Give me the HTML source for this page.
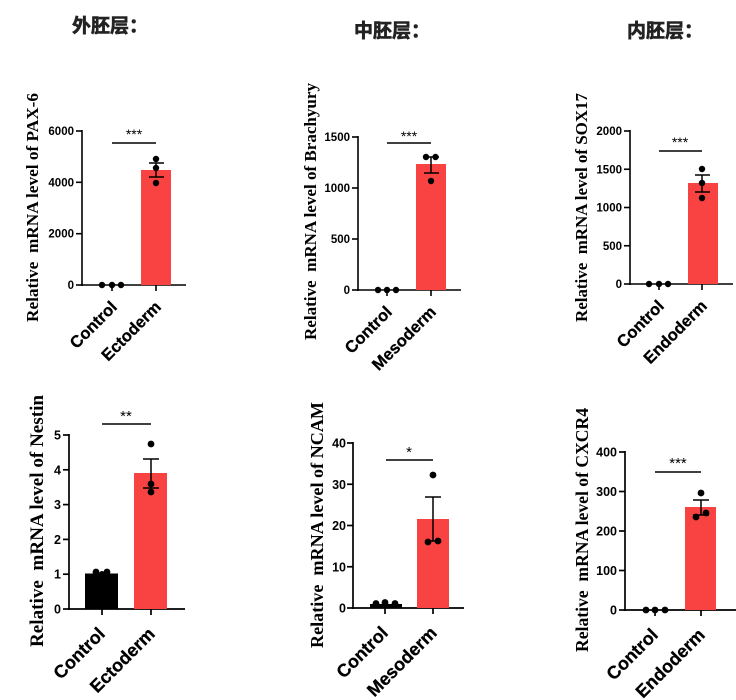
<!DOCTYPE html>
<html><head><meta charset="utf-8"><style>
html,body{margin:0;padding:0;background:#fff;}
svg{display:block;}
.t{font-family:"Noto Sans CJK SC","WenQuanYi Zen Hei",sans-serif;font-weight:bold;fill:#222;stroke:#222;stroke-width:0.6;font-size:19px;}
.tk{font-family:"Liberation Sans",sans-serif;font-weight:bold;fill:#000;}
.yl{font-family:"Liberation Serif",serif;font-weight:bold;fill:#000;}
.xl{font-family:"Liberation Sans",sans-serif;font-weight:bold;fill:#000;stroke:#000;stroke-width:0.3;}
.st{font-family:"Liberation Sans",sans-serif;fill:#000;}
</style></head><body>
<svg width="736" height="700" viewBox="0 0 736 700" xmlns="http://www.w3.org/2000/svg">
<!-- Titles -->
<text class="t" x="72" y="32">外胚层：</text>
<text class="t" x="354" y="37">中胚层：</text>
<text class="t" x="627" y="37">内胚层：</text>

<!-- P1 PAX-6 -->
<g stroke="#000" stroke-width="1.6" fill="none">
<line x1="82" y1="130" x2="82" y2="286"/>
<line x1="81" y1="285" x2="186" y2="285"/>
<line x1="76" y1="131" x2="82" y2="131"/>
<line x1="76" y1="182.3" x2="82" y2="182.3"/>
<line x1="76" y1="233.7" x2="82" y2="233.7"/>
<line x1="76" y1="285" x2="82" y2="285"/>
<line x1="112" y1="285" x2="112" y2="291"/>
<line x1="156" y1="285" x2="156" y2="291"/>
</g>
<rect x="141" y="170" width="30" height="115" fill="#f94242"/>
<g stroke="#000" stroke-width="1.5">
<line x1="156" y1="163" x2="156" y2="177"/>
<line x1="149" y1="163" x2="164" y2="163"/>
<line x1="149" y1="177" x2="164" y2="177"/>
<line x1="112" y1="143" x2="156" y2="143" stroke-width="1.4"/>
</g>
<g fill="#000">
<circle cx="156" cy="159" r="3.2"/><circle cx="156" cy="168" r="3.2"/><circle cx="156" cy="183" r="3.2"/>
<circle cx="102" cy="285" r="3.2"/><circle cx="112" cy="285" r="3.2"/><circle cx="121" cy="285" r="3.2"/>
</g>
<text class="st" x="134" y="139" font-size="14" text-anchor="middle">***</text>
<g class="tk" font-size="11.5" text-anchor="end">
<text x="74" y="135">6000</text><text x="74" y="186.3">4000</text><text x="74" y="237.7">2000</text><text x="74" y="289">0</text>
</g>
<text class="yl" font-size="17" text-anchor="middle" textLength="229" lengthAdjust="spacingAndGlyphs" transform="translate(38,207.5) rotate(-90)">Relative&#160; mRNA level of PAX-6</text>
<text class="xl" font-size="16.5" text-anchor="end" transform="translate(118,308) rotate(-45)">Control</text>
<text class="xl" font-size="16.5" text-anchor="end" transform="translate(162,308) rotate(-45)">Ectoderm</text>

<!-- P2 Brachyury -->
<g stroke="#000" stroke-width="1.6" fill="none">
<line x1="358" y1="136" x2="358" y2="291"/>
<line x1="357" y1="290" x2="461" y2="290"/>
<line x1="352" y1="137" x2="358" y2="137"/>
<line x1="352" y1="188" x2="358" y2="188"/>
<line x1="352" y1="239" x2="358" y2="239"/>
<line x1="352" y1="290" x2="358" y2="290"/>
<line x1="387" y1="290" x2="387" y2="296"/>
<line x1="431" y1="290" x2="431" y2="296"/>
</g>
<rect x="416" y="164" width="30" height="126" fill="#f94242"/>
<g stroke="#000" stroke-width="1.5">
<line x1="431" y1="157" x2="431" y2="173"/>
<line x1="424" y1="157" x2="439" y2="157"/>
<line x1="424" y1="173" x2="439" y2="173"/>
<line x1="387" y1="143" x2="431" y2="143" stroke-width="1.4"/>
</g>
<g fill="#000">
<circle cx="426" cy="157" r="3.2"/><circle cx="435.5" cy="157" r="3.2"/><circle cx="431" cy="181" r="3.2"/>
<circle cx="378" cy="290" r="3.2"/><circle cx="387" cy="290" r="3.2"/><circle cx="396" cy="290" r="3.2"/>
</g>
<text class="st" x="409" y="141" font-size="14" text-anchor="middle">***</text>
<g class="tk" font-size="11.5" text-anchor="end">
<text x="350" y="141">1500</text><text x="350" y="192">1000</text><text x="350" y="243">500</text><text x="350" y="294">0</text>
</g>
<text class="yl" font-size="17" text-anchor="middle" textLength="257" lengthAdjust="spacingAndGlyphs" transform="translate(316,211.5) rotate(-90)">Relative&#160; mRNA level of Brachyury</text>
<text class="xl" font-size="16.5" text-anchor="end" transform="translate(393,313) rotate(-45)">Control</text>
<text class="xl" font-size="16.5" text-anchor="end" transform="translate(437,313) rotate(-45)">Mesoderm</text>

<!-- P3 SOX17 -->
<g stroke="#000" stroke-width="1.6" fill="none">
<line x1="630" y1="130" x2="630" y2="285"/>
<line x1="629" y1="284" x2="733" y2="284"/>
<line x1="624" y1="131" x2="630" y2="131"/>
<line x1="624" y1="169.25" x2="630" y2="169.25"/>
<line x1="624" y1="207.5" x2="630" y2="207.5"/>
<line x1="624" y1="245.75" x2="630" y2="245.75"/>
<line x1="624" y1="284" x2="630" y2="284"/>
<line x1="659" y1="284" x2="659" y2="290"/>
<line x1="702" y1="284" x2="702" y2="290"/>
</g>
<rect x="688" y="183" width="30" height="101" fill="#f94242"/>
<g stroke="#000" stroke-width="1.5">
<line x1="702" y1="175" x2="702" y2="192"/>
<line x1="695" y1="175" x2="710" y2="175"/>
<line x1="695" y1="192" x2="710" y2="192"/>
<line x1="659" y1="151" x2="702" y2="151" stroke-width="1.4"/>
</g>
<g fill="#000">
<circle cx="702" cy="169" r="3.2"/><circle cx="702" cy="183" r="3.2"/><circle cx="702" cy="198" r="3.2"/>
<circle cx="649" cy="284" r="3.2"/><circle cx="659" cy="284" r="3.2"/><circle cx="668" cy="284" r="3.2"/>
</g>
<text class="st" x="680" y="147" font-size="14" text-anchor="middle">***</text>
<g class="tk" font-size="11.5" text-anchor="end">
<text x="622" y="135">2000</text><text x="622" y="173.25">1500</text><text x="622" y="211.5">1000</text><text x="622" y="249.75">500</text><text x="622" y="288">0</text>
</g>
<text class="yl" font-size="17" text-anchor="middle" textLength="229" lengthAdjust="spacingAndGlyphs" transform="translate(587,207.5) rotate(-90)">Relative&#160; mRNA level of SOX17</text>
<text class="xl" font-size="16.5" text-anchor="end" transform="translate(665,307) rotate(-45)">Control</text>
<text class="xl" font-size="16.5" text-anchor="end" transform="translate(708,307) rotate(-45)">Endoderm</text>

<!-- P4 Nestin -->
<g stroke="#000" stroke-width="1.7" fill="none">
<line x1="69" y1="434" x2="69" y2="610"/>
<line x1="68" y1="609" x2="185" y2="609"/>
<line x1="63" y1="435" x2="69" y2="435"/>
<line x1="63" y1="469.8" x2="69" y2="469.8"/>
<line x1="63" y1="504.6" x2="69" y2="504.6"/>
<line x1="63" y1="539.4" x2="69" y2="539.4"/>
<line x1="63" y1="574.2" x2="69" y2="574.2"/>
<line x1="63" y1="609" x2="69" y2="609"/>
<line x1="102" y1="609" x2="102" y2="615"/>
<line x1="151" y1="609" x2="151" y2="615"/>
</g>
<rect x="85" y="573.5" width="33" height="35.5" fill="#000"/>
<rect x="134" y="473" width="33" height="136" fill="#f94242"/>
<g stroke="#000" stroke-width="1.5">
<line x1="151" y1="459" x2="151" y2="488"/>
<line x1="143" y1="459" x2="159" y2="459"/>
<line x1="143" y1="488" x2="159" y2="488"/>
<line x1="102" y1="424" x2="151" y2="424" stroke-width="1.5"/>
</g>
<g fill="#000">
<circle cx="151" cy="444" r="3.4"/><circle cx="151" cy="484" r="3.4"/><circle cx="151" cy="492" r="3.4"/>
<circle cx="96" cy="572" r="3.4"/><circle cx="107" cy="572" r="3.4"/><circle cx="102" cy="574" r="3"/>
</g>
<text class="st" x="126" y="421" font-size="15" text-anchor="middle">**</text>
<g class="tk" font-size="12.5" text-anchor="end">
<text x="61" y="439.5">5</text><text x="61" y="474.3">4</text><text x="61" y="509.1">3</text><text x="61" y="543.9">2</text><text x="61" y="578.7">1</text><text x="61" y="613.5">0</text>
</g>
<text class="yl" font-size="19" text-anchor="middle" textLength="252" lengthAdjust="spacingAndGlyphs" transform="translate(43,521) rotate(-90)">Relative&#160; mRNA level of Nestin</text>
<text class="xl" font-size="18" text-anchor="end" transform="translate(106,635) rotate(-45)">Control</text>
<text class="xl" font-size="18" text-anchor="end" transform="translate(156,635) rotate(-45)">Ectoderm</text>

<!-- P5 NCAM -->
<g stroke="#000" stroke-width="1.7" fill="none">
<line x1="353" y1="442" x2="353" y2="609"/>
<line x1="352" y1="608" x2="464" y2="608"/>
<line x1="347" y1="443" x2="353" y2="443"/>
<line x1="347" y1="484.25" x2="353" y2="484.25"/>
<line x1="347" y1="525.5" x2="353" y2="525.5"/>
<line x1="347" y1="566.75" x2="353" y2="566.75"/>
<line x1="347" y1="608" x2="353" y2="608"/>
<line x1="385" y1="608" x2="385" y2="614"/>
<line x1="433" y1="608" x2="433" y2="614"/>
</g>
<rect x="370" y="604" width="32" height="4" fill="#000"/>
<rect x="417" y="519" width="32" height="89" fill="#f94242"/>
<g stroke="#000" stroke-width="1.5">
<line x1="433" y1="497" x2="433" y2="541"/>
<line x1="425" y1="497" x2="441" y2="497"/>
<line x1="425" y1="541" x2="441" y2="541"/>
<line x1="386" y1="460" x2="433" y2="460" stroke-width="1.5"/>
</g>
<g fill="#000">
<circle cx="433" cy="475" r="3.4"/><circle cx="428" cy="542" r="3.4"/><circle cx="438" cy="541" r="3.4"/>
<circle cx="376" cy="603.5" r="3.4"/><circle cx="385" cy="602.5" r="3.4"/><circle cx="395" cy="603.5" r="3.4"/>
</g>
<text class="st" x="409" y="457" font-size="15" text-anchor="middle">*</text>
<g class="tk" font-size="12.5" text-anchor="end">
<text x="346" y="447.5">40</text><text x="346" y="488.75">30</text><text x="346" y="530">20</text><text x="346" y="571.25">10</text><text x="346" y="612.5">0</text>
</g>
<text class="yl" font-size="18" text-anchor="middle" textLength="246" lengthAdjust="spacingAndGlyphs" transform="translate(323,525) rotate(-90)">Relative&#160; mRNA level of NCAM</text>
<text class="xl" font-size="18" text-anchor="end" transform="translate(389,634) rotate(-45)">Control</text>
<text class="xl" font-size="18" text-anchor="end" transform="translate(438,634) rotate(-45)">Mesoderm</text>

<!-- P6 CXCR4 -->
<g stroke="#000" stroke-width="1.7" fill="none">
<line x1="625" y1="451" x2="625" y2="611"/>
<line x1="624" y1="610" x2="736" y2="610"/>
<line x1="619" y1="452" x2="625" y2="452"/>
<line x1="619" y1="491.5" x2="625" y2="491.5"/>
<line x1="619" y1="531" x2="625" y2="531"/>
<line x1="619" y1="570.5" x2="625" y2="570.5"/>
<line x1="619" y1="610" x2="625" y2="610"/>
<line x1="655" y1="610" x2="655" y2="616"/>
<line x1="701" y1="610" x2="701" y2="616"/>
</g>
<rect x="685" y="507" width="31" height="103" fill="#f94242"/>
<g stroke="#000" stroke-width="1.5">
<line x1="701" y1="500" x2="701" y2="515"/>
<line x1="693" y1="500" x2="709" y2="500"/>
<line x1="693" y1="515" x2="709" y2="515"/>
<line x1="655" y1="472" x2="701" y2="472" stroke-width="1.5"/>
</g>
<g fill="#000">
<circle cx="701" cy="493" r="3.4"/><circle cx="696" cy="517" r="3.4"/><circle cx="706" cy="513" r="3.4"/>
<circle cx="646" cy="610" r="3.4"/><circle cx="655" cy="610" r="3.4"/><circle cx="665" cy="610" r="3.4"/>
</g>
<text class="st" x="678" y="468" font-size="15" text-anchor="middle">***</text>
<g class="tk" font-size="12.5" text-anchor="end">
<text x="617" y="456.5">400</text><text x="617" y="496">300</text><text x="617" y="535.5">200</text><text x="617" y="575">100</text><text x="617" y="614.5">0</text>
</g>
<text class="yl" font-size="17.5" text-anchor="middle" textLength="244" lengthAdjust="spacingAndGlyphs" transform="translate(588,530) rotate(-90)">Relative&#160; mRNA level of CXCR4</text>
<text class="xl" font-size="18" text-anchor="end" transform="translate(659,636) rotate(-45)">Control</text>
<text class="xl" font-size="18" text-anchor="end" transform="translate(706,636) rotate(-45)">Endoderm</text>
</svg>
</body></html>
